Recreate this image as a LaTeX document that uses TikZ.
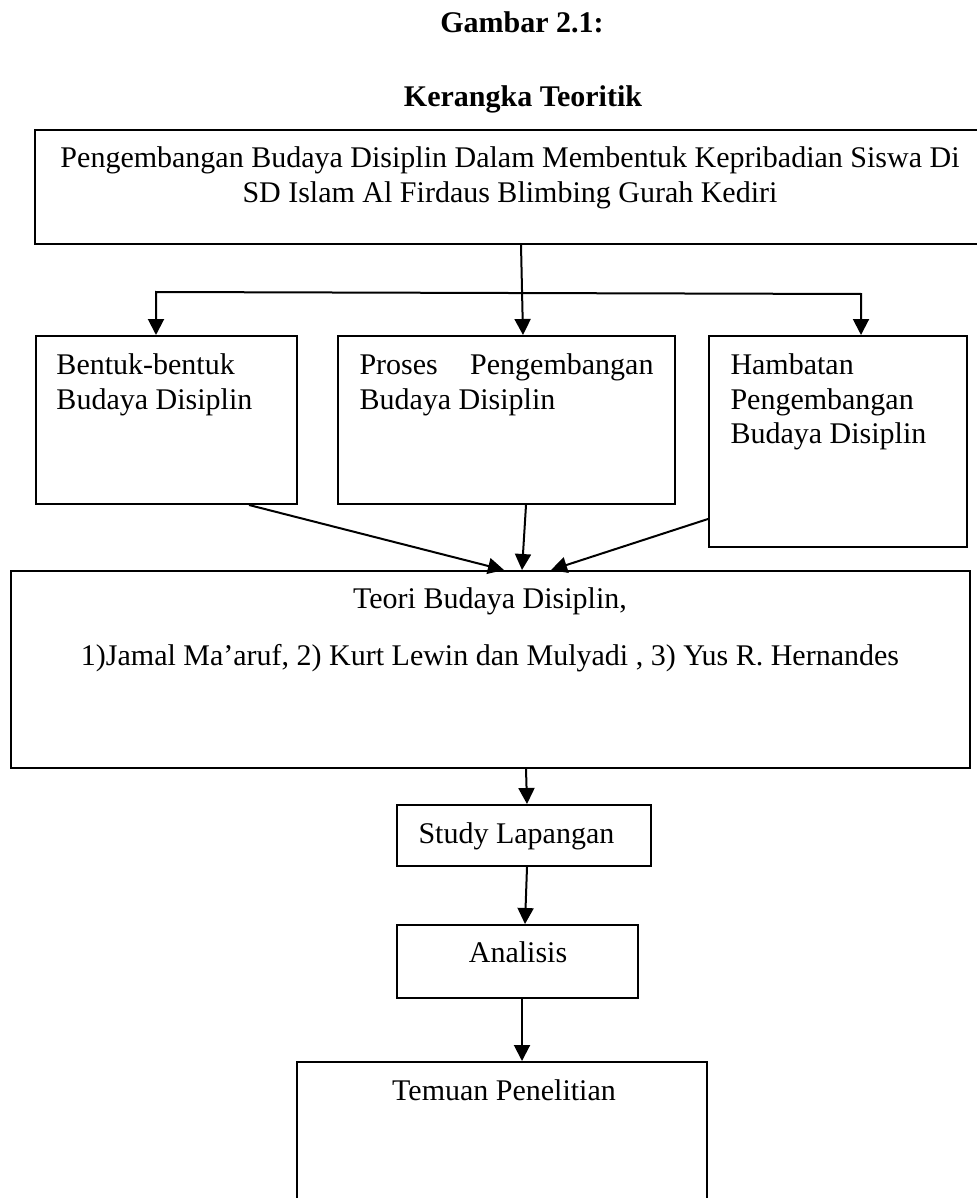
\documentclass[tikz,border=0pt]{standalone}
\usepackage{fontspec}
\setmainfont{Liberation Serif}
\usetikzlibrary{arrows.meta,fit,calc}
\tikzset{
  kotak/.style={draw,line width=0.8pt,inner sep=0pt},
  tulisan/.style={inner sep=0pt,font=\fontsize{12pt}{13.8pt}\selectfont},
  judulgbr/.style={inner sep=0pt,font=\bfseries\fontsize{12pt}{13.8pt}\selectfont},
  panah/.style={line width=0.8pt,-{Triangle[width=6.4pt,length=6.4pt]}},
  duapanah/.style={line width=0.8pt,{Triangle[width=6.4pt,length=6.4pt]}-{Triangle[width=6.4pt,length=6.4pt]}}
}
\begin{document}
\begin{tikzpicture}[x=0.4pt,y=-0.4pt]
\useasboundingbox (0,0) rectangle (977,1198);

\node[judulgbr,anchor=base] (gambar) at (522,33) {Gambar 2.1:};
\node[judulgbr,anchor=base] (kerangka) at (523,107) {Kerangka Teoritik};

\node[kotak,fit={(35,130) (985,244)}] (judul) {};
\node[kotak,fit={(36,336) (297,504)}] (bentuk) {};
\node[kotak,fit={(338,336) (675,504)}] (proses) {};
\node[kotak,fit={(709,336) (967,547)}] (hambatan) {};
\node[kotak,fit={(11,571) (970,768)}] (teori) {};
\node[kotak,fit={(397,805) (651,866)}] (studi) {};
\node[kotak,fit={(397,925) (638,998)}] (analisis) {};
\node[kotak,fit={(297,1062) (707,1230)}] (temuan) {};

\node[tulisan,anchor=north,align=center] (tjudul) at (510,146.5) {Pengembangan Budaya Disiplin Dalam Membentuk Kepribadian Siswa Di\\SD Islam Al Firdaus Blimbing Gurah Kediri};
\node[tulisan,anchor=north west,align=left] (tbentuk) at (56,353.5) {Bentuk-bentuk\\Budaya Disiplin};
\node[tulisan,anchor=north west,align=left] (tproses) at (359,353.5) {\hbox to 117.6pt{Proses\hfill Pengembangan}\\Budaya Disiplin};
\node[tulisan,anchor=north west,align=left] (thambatan) at (730,353.5) {Hambatan\\Pengembangan\\Budaya Disiplin};
\node[tulisan,anchor=north,align=center] (tteori) at (490,587.5) {Teori Budaya Disiplin,\\[9pt]1)Jamal Ma'aruf, 2) Kurt Lewin dan Mulyadi , 3) Yus R. Hernandes};
\node[tulisan,anchor=base west] (tstudi) at (418,843) {Study Lapangan};
\node[tulisan,anchor=base] (tanalisis) at (518,962) {Analisis};
\node[tulisan,anchor=base] (ttemuan) at (504,1100) {Temuan Penelitian};

\coordinate (cabangkiri) at (156,292);
\coordinate (cabangkanan) at (861,294);

\draw[panah] ($(judul.south west)+(487,0)$) -- ($(proses.north west)+(186,0)$);
\draw[duapanah] (bentuk.north -| cabangkiri) -- (cabangkiri) -- (cabangkanan) -- (hambatan.north -| cabangkanan);
\draw[panah] ($(bentuk.south west)+(214,0)$) -- ($(teori.north west)+(494,0)$);
\draw[panah] ($(proses.south west)+(189,0)$) -- ($(teori.north west)+(512,0)$);
\draw[panah] ($(hambatan.north west)+(0,184)$) -- ($(teori.north west)+(541,0)$);
\draw[panah] ($(teori.south west)+(516,0)$) -- ($(studi.north west)+(131,0)$);
\draw[panah] ($(studi.south west)+(131,0)$) -- ($(analisis.north west)+(129,0)$);
\draw[panah] ($(analisis.south west)+(126,0)$) -- ($(temuan.north west)+(226,0)$);

\end{tikzpicture}
\end{document}
